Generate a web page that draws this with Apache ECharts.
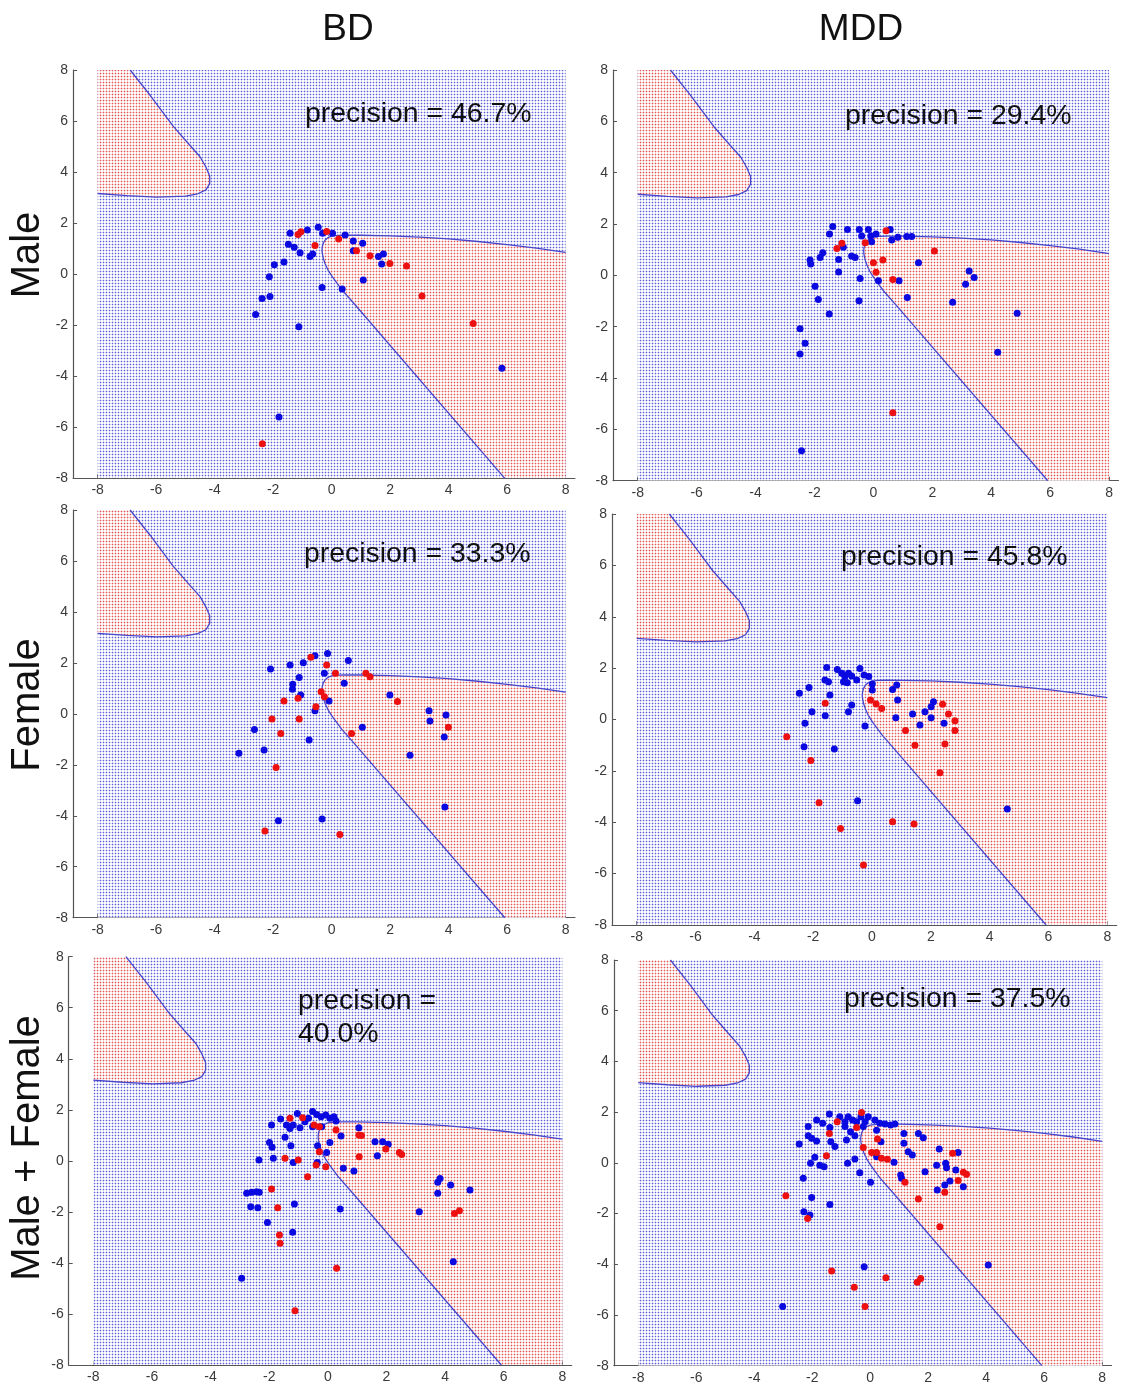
<!DOCTYPE html>
<html>
<head>
<meta charset="utf-8">
<script src="https://cdn.jsdelivr.net/npm/echarts@6/dist/echarts.min.js"></script>
<style>
html,body{margin:0;padding:0;background:#fff;}
#chart{width:1122px;height:1385px;}
</style>
</head>
<body>
<div id="chart"></div>
<script>
// ---------------- data ----------------
const columnTitles = ['BD', 'MDD'];
const rowTitles = ['Male', 'Female', 'Male + Female'];
const xTicks = [-8, -6, -4, -2, 0, 2, 4, 6, 8];
const yTicks = [-8, -6, -4, -2, 0, 2, 4, 6, 8];
const precisionTexts = ['precision = 46.7%', 'precision = 29.4%', 'precision = 33.3%', 'precision = 45.8%', 'precision =\n40.0%', 'precision = 37.5%'];

// classification background extent
const plotExtent = [[-8, -8], [8, -8], [8, 8], [-8, 8]];

// decision boundary, upper-left lobe
const boundaryLeft = [[-6.89, 8], [-6.2, 7.0], [-5.42, 5.8], [-4.85, 5.05], [-4.5, 4.6], [-4.3, 4.2], [-4.17, 3.85], [-4.17, 3.55], [-4.3, 3.3], [-4.58, 3.15], [-5.0, 3.06], [-5.98, 3.02], [-7.0, 3.08], [-8, 3.16]];
const regionLeftCorner = [[-8, 8]];

// decision boundary, right region
const boundaryRight = [[8, 0.85], [7, 1.02], [6, 1.16], [5, 1.28], [4, 1.38], [3, 1.45], [2, 1.5], [1, 1.525], [0.5, 1.53], [0.2, 1.52], [0, 1.49], [-0.13, 1.43], [-0.23, 1.33], [-0.29, 1.2], [-0.32, 1.07], [-0.33, 0.94], [-0.32, 0.81], [-0.28, 0.6], [-0.22, 0.4], [-0.12, 0.15], [0.02, -0.1], [0.34, -0.6], [0.8, -1.2], [5.92, -8]];
const regionRightCorner = [[8, -8]];

// BD Male
const bdMaleBlue = [[-1.42,1.6],[-0.83,1.73],[-0.46,1.84],[-0.31,1.6],[0.03,1.6],[0.46,1.53],[0.74,1.3],[1.06,1.21],[0.74,0.92],[1.6,0.69],[1.77,0.79],[1.71,0.4],[-1.48,1.17],[-1.28,1.05],[-1.08,0.84],[-0.74,0.69],[-0.65,0.79],[-1.63,0.48],[-1.96,0.37],[-2.13,-0.1],[-2.38,-0.95],[-2.11,-0.88],[-2.6,-1.58],[-1.12,-2.06],[-0.33,-0.52],[0.36,-0.58],[1.08,-0.23],[-1.8,-5.6],[5.82,-3.69]];
const bdMaleRed = [[-1.15,1.55],[-1.05,1.66],[-0.57,1.12],[-0.17,1.67],[0.24,1.38],[0.85,0.92],[1.31,0.72],[1.99,0.42],[2.56,0.32],[3.09,-0.86],[4.84,-1.93],[-2.37,-6.65]];

// MDD Male
const mddMaleBlue = [[-1.38,1.9],[-1.49,1.61],[-0.88,1.79],[-0.48,1.79],[-0.17,1.79],[-0.4,1.53],[-0.09,1.53],[0.09,1.61],[-0.06,1.31],[0.57,1.79],[0.62,1.38],[0.83,1.48],[1.13,1.51],[1.3,1.51],[-1.02,1.09],[-1.72,0.88],[-1.81,0.7],[-2.15,0.6],[-2.13,0.44],[-1.18,0.62],[-0.74,0.75],[-0.62,0.7],[-1.18,0.13],[-0.45,-0.12],[0.17,-0.21],[0.87,-0.21],[1.53,0.49],[3.25,0.17],[3.42,-0.08],[3.13,-0.35],[1.15,-0.86],[2.69,-1.05],[4.88,-1.48],[4.22,-3.0],[-1.98,-0.42],[-1.87,-0.94],[-1.5,-1.51],[-0.49,-0.99],[-2.49,-2.08],[-2.32,-2.65],[-2.49,-3.06],[-2.44,-6.83]];
const mddMaleRed = [[-1.24,1.05],[-1.07,1.25],[-0.28,1.27],[0.43,1.74],[0,0.49],[0.32,0.6],[0.09,0.12],[0.66,-0.16],[2.07,0.95],[0.66,-5.35]];

// BD Female
const bdFemaleBlue = [[-2.09,1.76],[-1.42,1.92],[-0.97,2.01],[-0.57,2.28],[-0.14,2.37],[0.57,2.09],[-1.11,1.43],[-1.33,1.16],[-1.34,0.97],[-1.06,0.74],[-0.25,1.59],[0.43,1.2],[-0.09,0.5],[-0.57,0.12],[1.99,0.74],[3.33,0.12],[3.36,-0.28],[3.91,-0.05],[3.85,-0.91],[2.68,-1.62],[1.05,-0.53],[-0.77,-1.03],[-2.64,-0.61],[-2.31,-1.42],[-3.17,-1.55],[-1.82,-4.2],[-0.33,-4.13],[3.87,-3.66]];
const bdFemaleRed = [[-0.71,2.22],[-0.17,1.92],[0.13,1.59],[1.17,1.59],[1.31,1.46],[-0.36,0.87],[-0.25,0.67],[-0.54,0.28],[-1.15,0.61],[-1.63,0.5],[-2.04,-0.2],[-1.11,-0.2],[-1.74,-0.77],[-1.9,-2.11],[0.68,-0.77],[2.25,0.48],[3.99,-0.53],[-2.28,-4.6],[0.28,-4.73]];

// MDD Female
const mddFemaleBlue = [[-1.54,2.02],[-1.6,1.54],[-1.48,1.47],[-1.18,1.95],[-1.03,1.8],[-0.92,1.67],[-0.8,1.8],[-0.97,1.47],[-0.84,1.43],[-0.69,1.69],[-0.52,1.54],[-0.41,1.99],[-0.27,1.73],[-0.11,1.67],[0.01,1.38],[0.01,1.15],[-2.14,1.25],[-2.47,1.02],[-1.43,0.95],[-2.04,0.3],[-1.59,0.15],[-2.28,-0.15],[-2.31,-1.06],[-1.28,-1.15],[-0.8,0.3],[-0.69,0.56],[-0.24,-0.25],[0.7,1.17],[0.84,1.34],[0.87,0.76],[0.81,0.07],[1.38,0.21],[1.63,-0.21],[1.8,0.3],[2.01,0.5],[2.09,0.69],[2.01,0.07],[2.45,-0.15],[-0.49,-3.16],[4.6,-3.48]];
const mddFemaleRed = [[-1.59,0.63],[-0.05,0.76],[0.14,0.6],[0.33,0.43],[2.4,0.59],[2.6,0.21],[2.82,-0.05],[2.82,-0.43],[1.14,-0.43],[1.46,-1.0],[2.48,-0.95],[2.31,-2.07],[-2.9,-0.67],[-2.08,-1.6],[-1.8,-3.24],[-1.07,-4.24],[0.7,-3.98],[1.43,-4.07],[-0.29,-5.66]];

// BD Male + Female
const bdAllBlue = [[-1.04,1.86],[-1.92,1.4],[-1.61,1.64],[-1.41,1.4],[-1.29,1.27],[-1.18,1.4],[-0.95,1.3],[-0.78,1.53],[-0.66,1.67],[-0.52,1.93],[-0.38,1.82],[-0.23,1.73],[-0.07,1.8],[0.07,1.67],[0.21,1.73],[0.28,1.56],[-0.52,1.34],[-0.21,1.34],[-1.46,0.92],[-1.26,0.59],[-1.99,0.72],[-1.9,0.53],[-1.86,0.1],[-2.35,0.03],[-1.18,-0.06],[-0.35,0.59],[0.07,0.72],[-0.04,0.33],[-0.36,-0.06],[0.45,0.97],[1.06,1.3],[1.61,0.75],[1.87,0.75],[2.06,0.65],[1.69,0.2],[0.53,-0.29],[0.89,-0.4],[-2.77,-1.27],[-2.6,-1.23],[-2.43,-1.21],[-2.34,-1.23],[-2.63,-1.8],[-2.39,-1.84],[-2.06,-2.42],[-1.2,-2.8],[-1.14,-1.69],[0.42,-1.89],[-2.94,-4.6],[3.12,-1.99],[3.75,-0.84],[3.83,-0.69],[3.75,-1.27],[4.19,-0.95],[4.85,-1.14],[4.28,-3.95]];
const bdAllRed = [[-1.29,1.67],[-0.86,1.69],[-0.47,1.4],[-0.29,1.34],[0.28,1.21],[1.06,1.01],[1.15,0.99],[1.98,0.46],[2.44,0.33],[2.52,0.25],[1.07,0.16],[-0.29,0.36],[-1.46,0.1],[-1.01,0.03],[-0.4,-0.16],[-0.07,-0.23],[-0.69,-0.62],[-1.92,-1.1],[-1.71,-1.84],[-1.65,-2.91],[-1.63,-3.23],[0.3,-4.21],[-1.12,-5.87],[4.32,-2.06],[4.49,-1.96]];

// MDD Male + Female
const mddAllBlue = [[-1.41,1.93],[-1.85,1.69],[-2.14,1.43],[-1.64,1.56],[-1.39,1.39],[-1.05,1.82],[-0.87,1.62],[-0.76,1.82],[-0.61,1.69],[-0.87,1.43],[-0.68,1.23],[-0.47,1.62],[-0.32,1.82],[-0.18,1.62],[-0.07,1.82],[-0.24,1.43],[0.16,1.69],[0.33,1.56],[0.51,1.53],[0.7,1.49],[0.85,1.53],[0.22,1.29],[-0.82,0.9],[-0.53,1.07],[-2.45,0.74],[-2.14,1.07],[-2.02,0.97],[-1.85,0.86],[-1.36,0.83],[-1.22,0.64],[-1.91,0.22],[-2.06,-0.02],[-1.74,-0.09],[-1.59,-0.15],[-2.31,-0.61],[-0.78,-0.02],[-0.53,0.15],[-0.36,-0.39],[0.01,-0.77],[-2.02,-1.37],[-1.39,-1.64],[-2.29,-1.93],[-2.08,-2.06],[0.37,0.83],[0.22,0.24],[0.82,0.02],[1.16,1.16],[1.16,0.77],[1.31,0.44],[1.45,0.31],[1.66,1.16],[1.83,0.99],[2.38,0.55],[2.29,-0.09],[2.6,-0.02],[2.63,-0.19],[1.89,-0.35],[1.05,-0.48],[1.08,-0.61],[3.03,0.41],[2.95,-0.28],[2.75,-0.72],[2.57,-0.87],[2.31,-1.07],[3.21,-0.94],[-0.21,-4.1],[4.07,-4.03],[-3.02,-5.67]];
const mddAllRed = [[-0.3,1.99],[-1.14,1.62],[-1.41,1.16],[-0.47,1.39],[0.25,0.94],[-0.24,0.61],[0.05,0.41],[0.22,0.41],[0.39,0.18],[0.59,0.14],[-1.51,0.28],[2.84,0.38],[3.21,-0.37],[3.32,-0.45],[3.03,-0.7],[2.57,-1.16],[1.2,-0.77],[1.66,-1.43],[2.4,-2.52],[-2.91,-1.3],[-2.16,-2.19],[-1.33,-4.27],[-0.55,-4.91],[0.54,-4.53],[1.62,-4.71],[1.74,-4.56],[-0.18,-5.67]];

const panelBlue = [bdMaleBlue, mddMaleBlue, bdFemaleBlue, mddFemaleBlue, bdAllBlue, mddAllBlue];
const panelRed = [bdMaleRed, mddMaleRed, bdFemaleRed, mddFemaleRed, bdAllRed, mddAllRed];

// ---------------- layout & style ----------------
const FONT = '"Liberation Sans", Arial, Helvetica, sans-serif';
const X_MIN = -8.84, X_MAX = 8.32;
// grid boxes (px): left, top, width, height
const grids = [
  {left: 73.1, top: 70, width: 501.9, height: 408.3},
  {left: 613.0, top: 70, width: 505.5, height: 410.7},
  {left: 73.1, top: 510, width: 501.9, height: 407.7},
  {left: 612.0, top: 514, width: 504.7, height: 411},
  {left: 68.7, top: 956.7, width: 503, height: 408.3},
  {left: 613.9, top: 960, width: 497.6, height: 405.7}
];
const textPos = [[305, 113], [845, 115], [304, 553], [841, 556], [298, 1000], [844, 998]];

function dotPattern(dark, light) {
  const c = document.createElement('canvas');
  c.width = 3; c.height = 3;
  const g = c.getContext('2d');
  g.fillStyle = '#ffffff';
  g.fillRect(0, 0, 3, 3);
  g.fillStyle = light;
  g.fillRect(0, 1, 3, 1);
  g.fillRect(1, 0, 1, 3);
  g.fillStyle = dark;
  g.fillRect(1, 1, 1, 1);
  return {image: c, repeat: 'repeat'};
}
const bluePattern = dotPattern('rgb(95,95,220)', 'rgb(212,212,244)');
const redPattern = dotPattern('rgb(228,85,85)', 'rgb(246,206,206)');

function polygonSeries(points, fill, gi, z) {
  return {
    type: 'custom', xAxisIndex: gi, yAxisIndex: gi, z: z, silent: true, clip: true,
    data: points,
    encode: {x: 0, y: 1},
    renderItem: function (params, api) {
      if (params.dataIndex !== 0) return null;
      const pts = points.map(p => api.coord(p));
      return {type: 'polygon', shape: {points: pts}, style: {fill: fill, stroke: null}};
    }
  };
}

const option = {
  animation: false,
  backgroundColor: '#ffffff',
  grid: grids.map(g => Object.assign({containLabel: false}, g)),
  xAxis: grids.map((g, i) => ({
    type: 'value', gridIndex: i, min: X_MIN, max: X_MAX,
    axisLine: {show: true, onZero: false, lineStyle: {color: '#555', width: 1.2}},
    axisTick: {show: true, inside: true, length: 4, customValues: xTicks, lineStyle: {color: '#555'}},
    axisLabel: {show: true, customValues: xTicks, color: '#3a3a3a', fontSize: 14, fontFamily: FONT, margin: 5, formatter: v => String(v)},
    splitLine: {show: false}
  })),
  yAxis: grids.map((g, i) => ({
    type: 'value', gridIndex: i, min: -8, max: 8, interval: 2,
    axisLine: {show: true, onZero: false, lineStyle: {color: '#555', width: 1.2}},
    axisTick: {show: true, inside: true, length: 4, lineStyle: {color: '#555'}},
    axisLabel: {show: true, color: '#3a3a3a', fontSize: 14, fontFamily: FONT, margin: 5, formatter: v => String(v)},
    splitLine: {show: false}
  })),
  series: [],
  graphic: []
};

grids.forEach((g, i) => {
  option.series.push(polygonSeries(plotExtent, bluePattern, i, 1));
  option.series.push(polygonSeries(boundaryLeft.concat(regionLeftCorner), redPattern, i, 2));
  option.series.push(polygonSeries(boundaryRight.concat(regionRightCorner), redPattern, i, 2));
  [boundaryLeft, boundaryRight].forEach(b => option.series.push({
    type: 'line', xAxisIndex: i, yAxisIndex: i, data: b, symbol: 'none', z: 3, silent: true,
    lineStyle: {color: '#4646cc', width: 1.3}
  }));
  option.series.push({
    type: 'scatter', xAxisIndex: i, yAxisIndex: i, data: panelBlue[i], symbolSize: 7, z: 4,
    itemStyle: {color: '#0a0ae0', opacity: 1}
  });
  option.series.push({
    type: 'scatter', xAxisIndex: i, yAxisIndex: i, data: panelRed[i], symbolSize: 7, z: 5,
    itemStyle: {color: '#ec1010', opacity: 1}
  });
  const lines = precisionTexts[i].split('\n');
  lines.forEach((t, k) => option.graphic.push({
    type: 'text', left: textPos[i][0], top: textPos[i][1] - 13 + k * 33, z: 10,
    style: {text: t, font: '28.4px ' + FONT, fill: '#111'}
  }));
});

// column titles
[[348, 30], [861, 30]].forEach((p, i) => option.graphic.push({
  type: 'text', x: p[0], y: p[1], z: 10,
  style: {text: columnTitles[i], font: '37px ' + FONT, fill: '#111', align: 'center', verticalAlign: 'middle'}
}));
// row titles
[[28, 255], [28, 705], [28, 1148]].forEach((p, i) => option.graphic.push({
  type: 'text', x: p[0], y: p[1], rotation: Math.PI / 2, z: 10,
  style: {text: rowTitles[i], font: '40px ' + FONT, fill: '#111', align: 'center', verticalAlign: 'middle'}
}));

const chart = echarts.init(document.getElementById('chart'), null, {renderer: 'canvas'});
chart.setOption(option);
</script>
</body>
</html>
